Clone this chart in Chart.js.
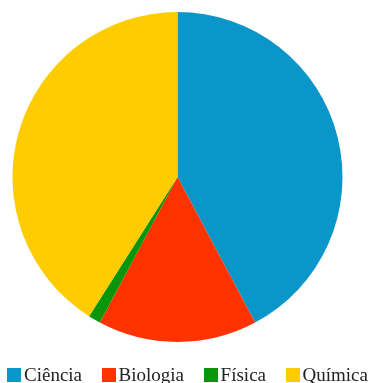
<!DOCTYPE html>
<html>
<head>
<meta charset="utf-8">
<script src="https://cdn.jsdelivr.net/npm/chart.js@4/dist/chart.umd.min.js"></script>
<style>
html,body{margin:0;padding:0;background:#fff;font-family:"Liberation Serif";}
#wrap{position:relative;width:371px;height:383px;overflow:hidden;}
canvas{display:block;position:absolute;left:0;top:0;}
#legend{position:absolute;left:7px;right:3px;top:364px;height:22px;display:flex;justify-content:space-between;align-items:center;
  font-family:"Liberation Serif";font-size:19px;line-height:22px;color:#222;}
.item{display:flex;align-items:center;white-space:nowrap;}
.box{display:inline-block;width:14px;height:14px;margin-right:3px;}
.lbl{font-family:"Liberation Serif";}
</style>
</head>
<body>
<div id="wrap">
<canvas id="c" width="371" height="383"></canvas>
<div id="legend"></div>
</div>
<script>
const categories = ['Ciência', 'Biologia', 'Física', 'Química'];
const values = [42.2, 15.6, 1.2, 41.0];
const colors = ['#0a96c8', '#ff3300', '#0a960a', '#ffcc00'];

const htmlLegend = {
  id: 'htmlLegend',
  afterUpdate(chart) {
    const box = document.getElementById('legend');
    const items = chart.options.plugins.legend.labels.generateLabels(chart);
    box.innerHTML = items.map(item =>
      '<div class="item"><span class="box" style="background:' + item.fillStyle + '"></span>' +
      '<span class="lbl">' + item.text + '</span></div>'
    ).join('');
  }
};

new Chart(document.getElementById('c'), {
  type: 'pie',
  data: {
    labels: categories,
    datasets: [{
      data: values,
      backgroundColor: colors,
      borderWidth: 0
    }]
  },
  options: {
    responsive: false,
    animation: false,
    devicePixelRatio: 1,
    radius: 165,
    layout: { padding: { left: 0, right: 16, top: 0, bottom: 29 } },
    plugins: {
      tooltip: { enabled: false },
      legend: { display: false }
    }
  },
  plugins: [htmlLegend]
});
</script>
</body>
</html>
